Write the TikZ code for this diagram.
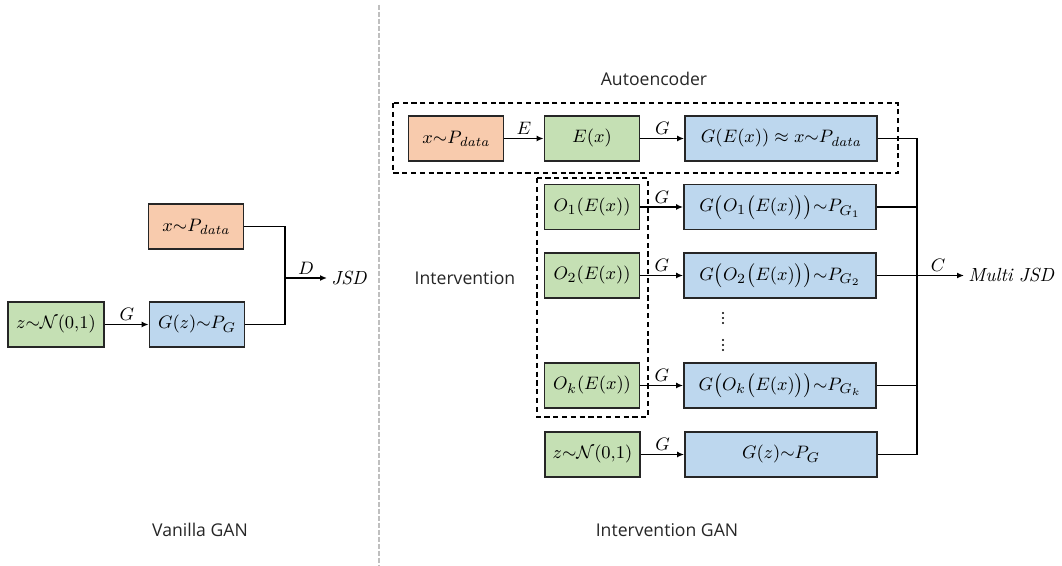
\documentclass[tikz,border=0pt]{standalone}
\usepackage{fontspec}
\setsansfont{Open Sans}
\usetikzlibrary{arrows.meta}
\definecolor{orfill}{HTML}{F8CBAD}
\definecolor{grfill}{HTML}{C5E0B4}
\definecolor{blfill}{HTML}{BDD7EE}
\definecolor{edge}{HTML}{262626}
\definecolor{sep}{HTML}{BFBFBF}
\definecolor{labtext}{HTML}{262626}
\begin{document}
\begin{tikzpicture}[x=0.5pt,y=-0.5pt,
  box/.style={draw=edge,line width=0.9pt,rectangle,inner sep=0pt,minimum height=22.5pt,font=\fontsize{9.5}{11}\selectfont},
  orbox/.style={box,fill=orfill,minimum width=47.5pt},
  grbox/.style={box,fill=grfill,minimum width=47.5pt},
  blbox/.style={box,fill=blfill,minimum width=96pt},
  arr/.style={line width=0.7pt,draw=black,-{Latex[length=3.5pt,width=3pt]}},
  conn/.style={line width=0.7pt,draw=black},
  lab/.style={above,inner sep=1.5pt,font=\fontsize{9.5}{11}\selectfont},
  frame/.style={draw=black,line width=0.6pt,dash pattern=on 2.6pt off 1.8pt},
  caption/.style={font=\sffamily\fontsize{8.8}{10}\selectfont,text=labtext},
  outtext/.style={anchor=west,inner sep=2pt,font=\fontsize{9.5}{11}\selectfont}
]
\useasboundingbox (0,0) rectangle (1062,566);
\fill[white] (0,0) rectangle (1062,566);

% separator
\coordinate (s1) at (379,5);
\coordinate (s2) at (379,566);
\draw[sep,line width=0.7pt,dash pattern=on 2.5pt off 1pt] (s1) -- (s2);

% ---------------- Vanilla GAN ----------------
\node[orbox] (xa) at (196,226.5) {$x{\sim}P_{\mathit{data}}$};
\node[grbox,minimum width=48pt] (za) at (56,324.5) {$z{\sim}\mathcal{N}(0{,}1)$};
\node[blbox,minimum width=47.5pt] (ga) at (197,324.5) {$G(z){\sim}P_G$};
\draw[arr] (za) -- node[lab]{$G$} (ga);
\coordinate (vj) at (285,278);
\draw[conn] (xa.east) -| (vj) |- (ga.east);
\node[outtext] (jsd) at (327,278) {$\mathit{JSD}$};
\draw[arr] (vj) -- node[lab]{$D$} (jsd.west);
\node[caption] (vcap) at (200,530) {Vanilla GAN};

% ---------------- Intervention GAN ----------------
\node[caption] (acap) at (654,79) {Autoencoder};
\draw[frame] (393,103) rectangle (898,173);
\draw[frame] (537,178) rectangle (648,417);
\node[caption] (icap) at (465,278) {Intervention};

\node[orbox] (ax) at (456,138.5) {$x{\sim}P_{\mathit{data}}$};
\node[grbox] (ex) at (592,138.5) {$E(x)$};
\node[blbox] (gex) at (781,138.5) {$G(E(x))\approx x{\sim}P_{\mathit{data}}$};
\draw[arr] (ax) -- node[lab]{$E$} (ex);
\draw[arr] (ex) -- node[lab]{$G$} (gex);

\node[grbox] (o1) at (592,207) {$O_1(E(x))$};
\node[blbox] (go1) at (780,207) {$G\bigl(O_1\bigl(E(x)\bigr)\bigr){\sim}P_{G_1}$};
\draw[arr] (o1) -- node[lab]{$G$} (go1);

\node[grbox] (o2) at (592,275.5) {$O_2(E(x))$};
\node[blbox] (go2) at (780,275.5) {$G\bigl(O_2\bigl(E(x)\bigr)\bigr){\sim}P_{G_2}$};
\draw[arr] (o2) -- node[lab]{$G$} (go2);

\node[grbox] (ok) at (592,385.5) {$O_k(E(x))$};
\node[blbox] (gok) at (780,385.5) {$G\bigl(O_k\bigl(E(x)\bigr)\bigr){\sim}P_{G_k}$};
\draw[arr] (ok) -- node[lab]{$G$} (gok);

\node[grbox] (zb) at (592.5,454.5) {$z{\sim}\mathcal{N}(0{,}1)$};
\node[blbox] (gz) at (781,454.5) {$G(z){\sim}P_G$};
\draw[arr] (zb) -- node[lab]{$G$} (gz);

% dots
\foreach \yy in {313,318,323,340,345,350} \fill (723,\yy) circle (0.6pt);

% bus
\coordinate (bt) at (917,138.5);
\coordinate (bm) at (917,275.5);
\coordinate (bb) at (917,454.5);
\draw[conn] (gex.east) -- (bt) -- (bb) -- (gz.east);
\draw[conn] (go1.east) -- (go1.east -| bt);
\draw[conn] (go2.east) -- (bm);
\draw[conn] (gok.east) -- (gok.east -| bt);
\node[outtext] (mjsd) at (964,275.5) {$\mathit{Multi\ JSD}$};
\draw[arr] (bm) -- node[lab,pos=0.45]{$C$} (mjsd.west);

\node[caption] (igcap) at (667,530) {Intervention GAN};
\end{tikzpicture}
\end{document}
